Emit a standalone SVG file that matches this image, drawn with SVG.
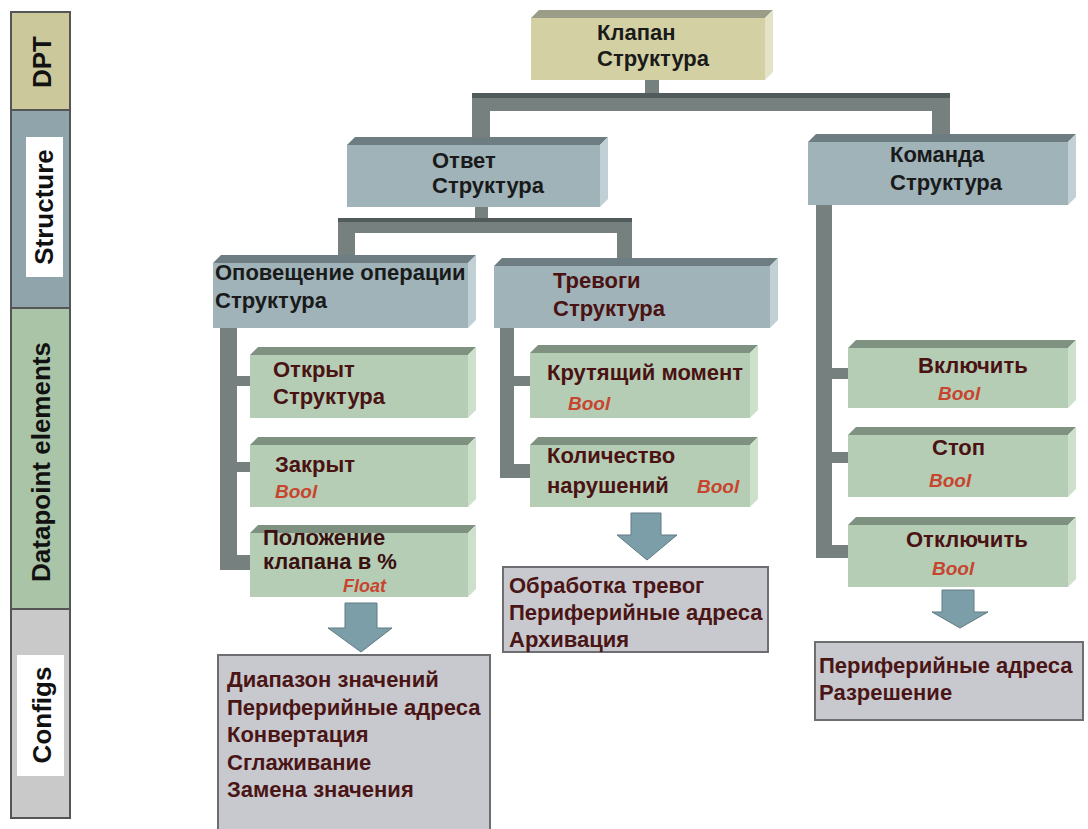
<svg xmlns="http://www.w3.org/2000/svg" width="1088" height="829" viewBox="0 0 1088 829">
  <defs>
    <style>
      text { font-family: "Liberation Sans", Arial, sans-serif; font-weight: bold; }
      .band { stroke: #555; stroke-width: 2; }
      .lbl { font-size: 26px; fill: #111; }
      .lblbox { fill: #fff; }
      .kh-f { fill: #d3d1a3; } .kh-t { fill: #9c9d88; } .kh-s { fill: #e4e3c8; }
      .bg-f { fill: #9fb3b9; } .bg-t { fill: #6e7d82; } .bg-s { fill: #c0d0d4; }
      .gr-f { fill: #b4cdb4; } .gr-t { fill: #7f9180; } .gr-s { fill: #cde0cb; }
      .t-blk { font-size: 22px; fill: #1a1a1a; }
      .t-red { font-size: 22px; fill: #4a1212; }
      .t-type { font-size: 19px; font-style: italic; fill: #c8442f; }
      .cfg { fill: #c8c8cf; stroke: #6e6e72; stroke-width: 2; }
      .t-cfg { font-size: 22px; fill: #4a1515; }
      .bar { fill: #76807f; }
      .bar-top { fill: #525b5b; }
      .arrow { fill: #7c9ea8; stroke: #5e7a82; stroke-width: 1; }
    </style>
  </defs>

  <rect width="1088" height="829" fill="#fff"/>

  <!-- layer legend on the left -->
  <g id="legend">
    <rect class="band" x="11" y="12" width="59" height="98" fill="#cbc89c"/>
    <rect class="band" x="11" y="110" width="59" height="198" fill="#8fa4ab"/>
    <rect class="band" x="11" y="308" width="59" height="301" fill="#a9c4a6"/>
    <rect class="band" x="11" y="609" width="59" height="209" fill="#c9c9c9"/>
    <rect class="lblbox" x="26" y="137" width="37" height="140"/>
    <rect class="lblbox" x="17" y="655" width="47" height="121"/>
    <text class="lbl" transform="translate(51,62) rotate(-90)" text-anchor="middle">DPT</text>
    <text class="lbl" transform="translate(53,207) rotate(-90)" text-anchor="middle">Structure</text>
    <text class="lbl" transform="translate(50,462) rotate(-90)" text-anchor="middle">Datapoint elements</text>
    <text class="lbl" transform="translate(51,715) rotate(-90)" text-anchor="middle">Configs</text>
  </g>

  <!-- tree connectors -->
  <g id="connectors">
    <rect class="bar" x="645" y="80" width="14" height="15"/>
    <rect class="bar" x="472" y="93" width="478" height="18"/>
    <rect class="bar-top" x="472" y="93" width="478" height="5"/>
    <rect class="bar" x="472" y="98" width="18" height="42"/>
    <rect class="bar" x="932" y="98" width="18" height="38"/>

    <rect class="bar" x="475" y="207" width="13" height="13"/>
    <rect class="bar" x="338" y="218" width="294" height="15"/>
    <rect class="bar-top" x="338" y="218" width="294" height="4"/>
    <rect class="bar" x="338" y="222" width="17" height="38"/>
    <rect class="bar" x="617" y="222" width="15" height="40"/>

    <rect class="bar" x="220" y="328" width="17" height="242"/>
    <rect class="bar" x="220" y="376" width="30" height="10"/>
    <rect class="bar" x="220" y="462" width="30" height="10"/>
    <rect class="bar" x="220" y="555" width="30" height="15"/>

    <rect class="bar" x="500" y="328" width="14" height="150"/>
    <rect class="bar" x="500" y="376" width="30" height="10"/>
    <rect class="bar" x="500" y="464" width="30" height="14"/>

    <rect class="bar" x="816" y="205" width="16" height="353"/>
    <rect class="bar" x="816" y="368" width="32" height="11"/>
    <rect class="bar" x="816" y="452" width="32" height="11"/>
    <rect class="bar" x="816" y="545" width="32" height="13"/>

    <path class="arrow" d="M345,603 H377 V628 H392 L361,652 L328,628 H345 Z"/>
    <path class="arrow" d="M631,513 H661 V535 H677 L647,560 L617,535 H631 Z"/>
    <path class="arrow" d="M942,590 H974 V612 H988 L960,628 L932,612 H942 Z"/>
  </g>

  <!-- DPT -->
  <g id="node-klapan">
    <path class="kh-t" d="M531,18 L539,10 L773,10 L765,18 Z"/>
    <path class="kh-s" d="M765,18 L773,10 L773,72 L765,80 Z"/>
    <rect class="kh-f" x="531" y="18" width="234" height="62"/>
    <text class="t-blk" x="597" y="40">Клапан</text>
    <text class="t-blk" x="597" y="66">Структура</text>
  </g>

  <!-- structures -->
  <g id="node-otvet">
    <path class="bg-t" d="M347,145 L355,137 L608,137 L600,145 Z"/>
    <path class="bg-s" d="M600,145 L608,137 L608,199 L600,207 Z"/>
    <rect class="bg-f" x="347" y="145" width="253" height="62"/>
    <text class="t-blk" x="432" y="168">Ответ</text>
    <text class="t-blk" x="432" y="193">Структура</text>
  </g>

  <g id="node-komanda">
    <path class="bg-t" d="M808,142 L816,134 L1076,134 L1068,142 Z"/>
    <path class="bg-s" d="M1068,142 L1076,134 L1076,197 L1068,205 Z"/>
    <rect class="bg-f" x="808" y="142" width="260" height="63"/>
    <text class="t-blk" x="890" y="162">Команда</text>
    <text class="t-blk" x="890" y="190">Структура</text>
  </g>

  <g id="node-opoveshchenie">
    <path class="bg-t" d="M213,263 L221,255 L476,255 L468,263 Z"/>
    <path class="bg-s" d="M468,263 L476,255 L476,320 L468,328 Z"/>
    <rect class="bg-f" x="213" y="263" width="255" height="65"/>
    <text class="t-blk" x="215" y="280">Оповещение операции</text>
    <text class="t-blk" x="215" y="308">Структура</text>
  </g>

  <g id="node-trevogi">
    <path class="bg-t" d="M494,266 L502,258 L778,258 L770,266 Z"/>
    <path class="bg-s" d="M770,266 L778,258 L778,320 L770,328 Z"/>
    <rect class="bg-f" x="494" y="266" width="276" height="62"/>
    <text class="t-red" x="553" y="288">Тревоги</text>
    <text class="t-red" x="553" y="316">Структура</text>
  </g>

  <!-- datapoint elements -->
  <g id="node-otkryt">
    <path class="gr-t" d="M250,355 L258,347 L476,347 L468,355 Z"/>
    <path class="gr-s" d="M468,355 L476,347 L476,410 L468,418 Z"/>
    <rect class="gr-f" x="250" y="355" width="218" height="63"/>
    <text class="t-red" x="273" y="377">Открыт</text>
    <text class="t-red" x="273" y="404">Структура</text>
  </g>

  <g id="node-zakryt">
    <path class="gr-t" d="M250,445 L258,437 L476,437 L468,445 Z"/>
    <path class="gr-s" d="M468,445 L476,437 L476,499 L468,507 Z"/>
    <rect class="gr-f" x="250" y="445" width="218" height="62"/>
    <text class="t-red" x="275" y="472">Закрыт</text>
    <text class="t-type" x="275" y="498">Bool</text>
  </g>

  <g id="node-polozhenie">
    <path class="gr-t" d="M250,533 L258,525 L476,525 L468,533 Z"/>
    <path class="gr-s" d="M468,533 L476,525 L476,589 L468,597 Z"/>
    <rect class="gr-f" x="250" y="533" width="218" height="64"/>
    <text class="t-red" x="263" y="545" style="fill:#3a1010">Положение</text>
    <text class="t-red" x="263" y="569" style="fill:#3a1010">клапана в %</text>
    <text class="t-type" x="343" y="592" style="font-size:18px">Float</text>
  </g>

  <g id="node-krutyashchiy">
    <path class="gr-t" d="M530,353 L538,345 L758,345 L750,353 Z"/>
    <path class="gr-s" d="M750,353 L758,345 L758,410 L750,418 Z"/>
    <rect class="gr-f" x="530" y="353" width="220" height="65"/>
    <text class="t-red" x="547" y="380">Крутящий момент</text>
    <text class="t-type" x="568" y="410">Bool</text>
  </g>

  <g id="node-kolichestvo">
    <path class="gr-t" d="M530,445 L538,437 L758,437 L750,445 Z"/>
    <path class="gr-s" d="M750,445 L758,437 L758,499 L750,507 Z"/>
    <rect class="gr-f" x="530" y="445" width="220" height="62"/>
    <text class="t-red" x="547" y="463">Количество</text>
    <text class="t-red" x="547" y="493">нарушений</text>
    <text class="t-type" x="697" y="493">Bool</text>
  </g>

  <g id="node-vklyuchit">
    <path class="gr-t" d="M848,348 L856,340 L1076,340 L1068,348 Z"/>
    <path class="gr-s" d="M1068,348 L1076,340 L1076,400 L1068,408 Z"/>
    <rect class="gr-f" x="848" y="348" width="220" height="60"/>
    <text class="t-red" x="918" y="373">Включить</text>
    <text class="t-type" x="938" y="400">Bool</text>
  </g>

  <g id="node-stop">
    <path class="gr-t" d="M848,435 L856,427 L1076,427 L1068,435 Z"/>
    <path class="gr-s" d="M1068,435 L1076,427 L1076,489 L1068,497 Z"/>
    <rect class="gr-f" x="848" y="435" width="220" height="62"/>
    <text class="t-red" x="932" y="455">Стоп</text>
    <text class="t-type" x="929" y="487">Bool</text>
  </g>

  <g id="node-otklyuchit">
    <path class="gr-t" d="M848,525 L856,517 L1076,517 L1068,525 Z"/>
    <path class="gr-s" d="M1068,525 L1076,517 L1076,579 L1068,587 Z"/>
    <rect class="gr-f" x="848" y="525" width="220" height="62"/>
    <text class="t-red" x="906" y="547">Отключить</text>
    <text class="t-type" x="932" y="575">Bool</text>
  </g>

  <!-- configs -->
  <g id="cfg-polozhenie">
    <rect class="cfg" x="218" y="655" width="272" height="180"/>
    <text class="t-cfg" x="227" y="687">Диапазон значений</text>
    <text class="t-cfg" x="227" y="715">Периферийные адреса</text>
    <text class="t-cfg" x="227" y="742">Конвертация</text>
    <text class="t-cfg" x="227" y="770">Сглаживание</text>
    <text class="t-cfg" x="227" y="797">Замена значения</text>
  </g>

  <g id="cfg-trevogi">
    <rect class="cfg" x="503" y="567" width="265" height="85"/>
    <text class="t-cfg" x="509" y="593">Обработка тревог</text>
    <text class="t-cfg" x="509" y="620">Периферийные адреса</text>
    <text class="t-cfg" x="509" y="647">Архивация</text>
  </g>

  <g id="cfg-komanda">
    <rect class="cfg" x="815" y="642" width="268" height="78"/>
    <text class="t-cfg" x="819" y="673">Периферийные адреса</text>
    <text class="t-cfg" x="819" y="700">Разрешение</text>
  </g>
</svg>
